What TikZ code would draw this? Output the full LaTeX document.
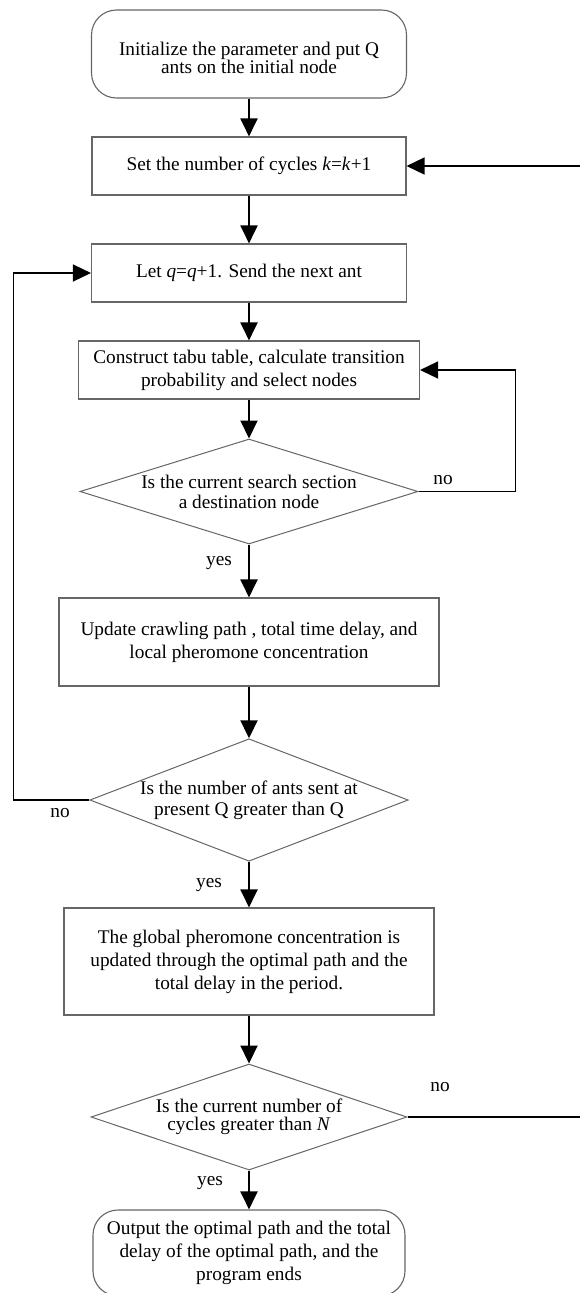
\documentclass[tikz,border=0pt]{standalone}
\usepackage{fontspec}
\setmainfont{Liberation Serif}
\usetikzlibrary{shapes.geometric}
\usetikzlibrary{arrows.meta}

\definecolor{boxgray}{gray}{0.4}

\tikzset{
    procbox/.style={draw=boxgray, line width=1.1pt, align=center, inner sep=0pt,
        font=\fontsize{19.3pt}{23pt}\selectfont},
    termbox/.style={procbox, rounded corners=25pt},
    testbox/.style={draw=boxgray, line width=1pt, shape=diamond, align=center, inner sep=0pt},
    flow/.style={line width=2pt, -{Triangle[length=18pt,width=17pt]}},
    back/.style={line width=1.5pt, -{Triangle[length=18pt,width=17pt]}},
    answer/.style={font=\fontsize{19.3pt}{23pt}\selectfont}
}

\begin{document}
\begin{tikzpicture}[x=1pt,y=-1pt]
    \fill [white] (0,0) rectangle (579,1293);
    \useasboundingbox (0,0) rectangle (579,1293);

    %start
    \node [termbox, minimum width=315pt, minimum height=88pt,
        label={[align=center, yshift=-3.5pt, font=\fontsize{19.3pt}{18pt}\selectfont]center:{Initialize the parameter and put Q\\ants on the initial node}}]
        (init) at (249,54) {};

    %cycles and ants
    \node [procbox, minimum width=314pt, minimum height=58pt] (cycle) at (249,166)
        {Set the number of cycles \textit{k}=\textit{k}+1};
    \node [procbox, minimum width=315pt, minimum height=58pt] (ant) at (249,273)
        {Let \textit{q}=\textit{q}+1. Send the next ant};
    \node [procbox, minimum width=341pt, minimum height=58pt] (tabu) at (249,370)
        {Construct tabu table, calculate transition\\probability and select nodes};
    \node [testbox, minimum width=338pt, minimum height=105pt, aspect=3.2,
        font=\fontsize{19.3pt}{20pt}\selectfont] (dest) at (249,491.5)
        {Is the current search section\\a destination node};

    %pheromone
    \node [procbox, minimum width=380pt, minimum height=88pt] (local) at (249,642)
        {Update crawling path , total time delay, and\\local pheromone concentration};
    \node [testbox, minimum width=317pt, minimum height=120pt, aspect=2.6,
        font=\fontsize{19.3pt}{21pt}\selectfont] (count) at (249,800)
        {Is the number of ants sent at\\present Q greater than Q};
    \node [procbox, minimum width=370pt, minimum height=107pt] (global) at (249,961.5)
        {The global pheromone concentration is\\updated through the optimal path and the\\total delay in the period.};
    \node [testbox, minimum width=316pt, minimum height=106pt, aspect=3,
        font=\fontsize{19.3pt}{18pt}\selectfont] (stop) at (249,1117)
        {Is the current number of\\cycles greater than \textit{N}};

    %end
    \node [termbox, minimum width=312pt, minimum height=86pt] (output) at (249,1253)
        {Output the optimal path and the total\\delay of the optimal path, and the\\program ends};

    %main flow
    \draw [flow] (init) to (cycle);
    \draw [flow] (cycle) to (ant);
    \draw [flow] (ant) to (tabu);
    \draw [flow] (tabu) to (dest);
    \draw [flow] (dest) to (local);
    \draw [flow] (local) to (count);
    \draw [flow] (count) to (global);
    \draw [flow] (global) to (stop);
    \draw [flow] (stop) to (output);

    %loops
    \draw [back] (dest.east) -- ++(97,0) |- (tabu.east);
    \draw [back] (count.west) -- ++(-76,0) |- (ant.west);
    \draw [back] (stop.east) -- ++(175,0) |- (cycle.east);

    %answers
    \node [answer] (yes1) at (219,563) {yes};
    \node [answer] (yes2) at (209,885) {yes};
    \node [answer] (yes3) at (210,1183) {yes};
    \node [answer] (no1) at (443,480) {no};
    \node [answer] (no2) at (60,813) {no};
    \node [answer] (no3) at (440,1087) {no};
\end{tikzpicture}
\end{document}
